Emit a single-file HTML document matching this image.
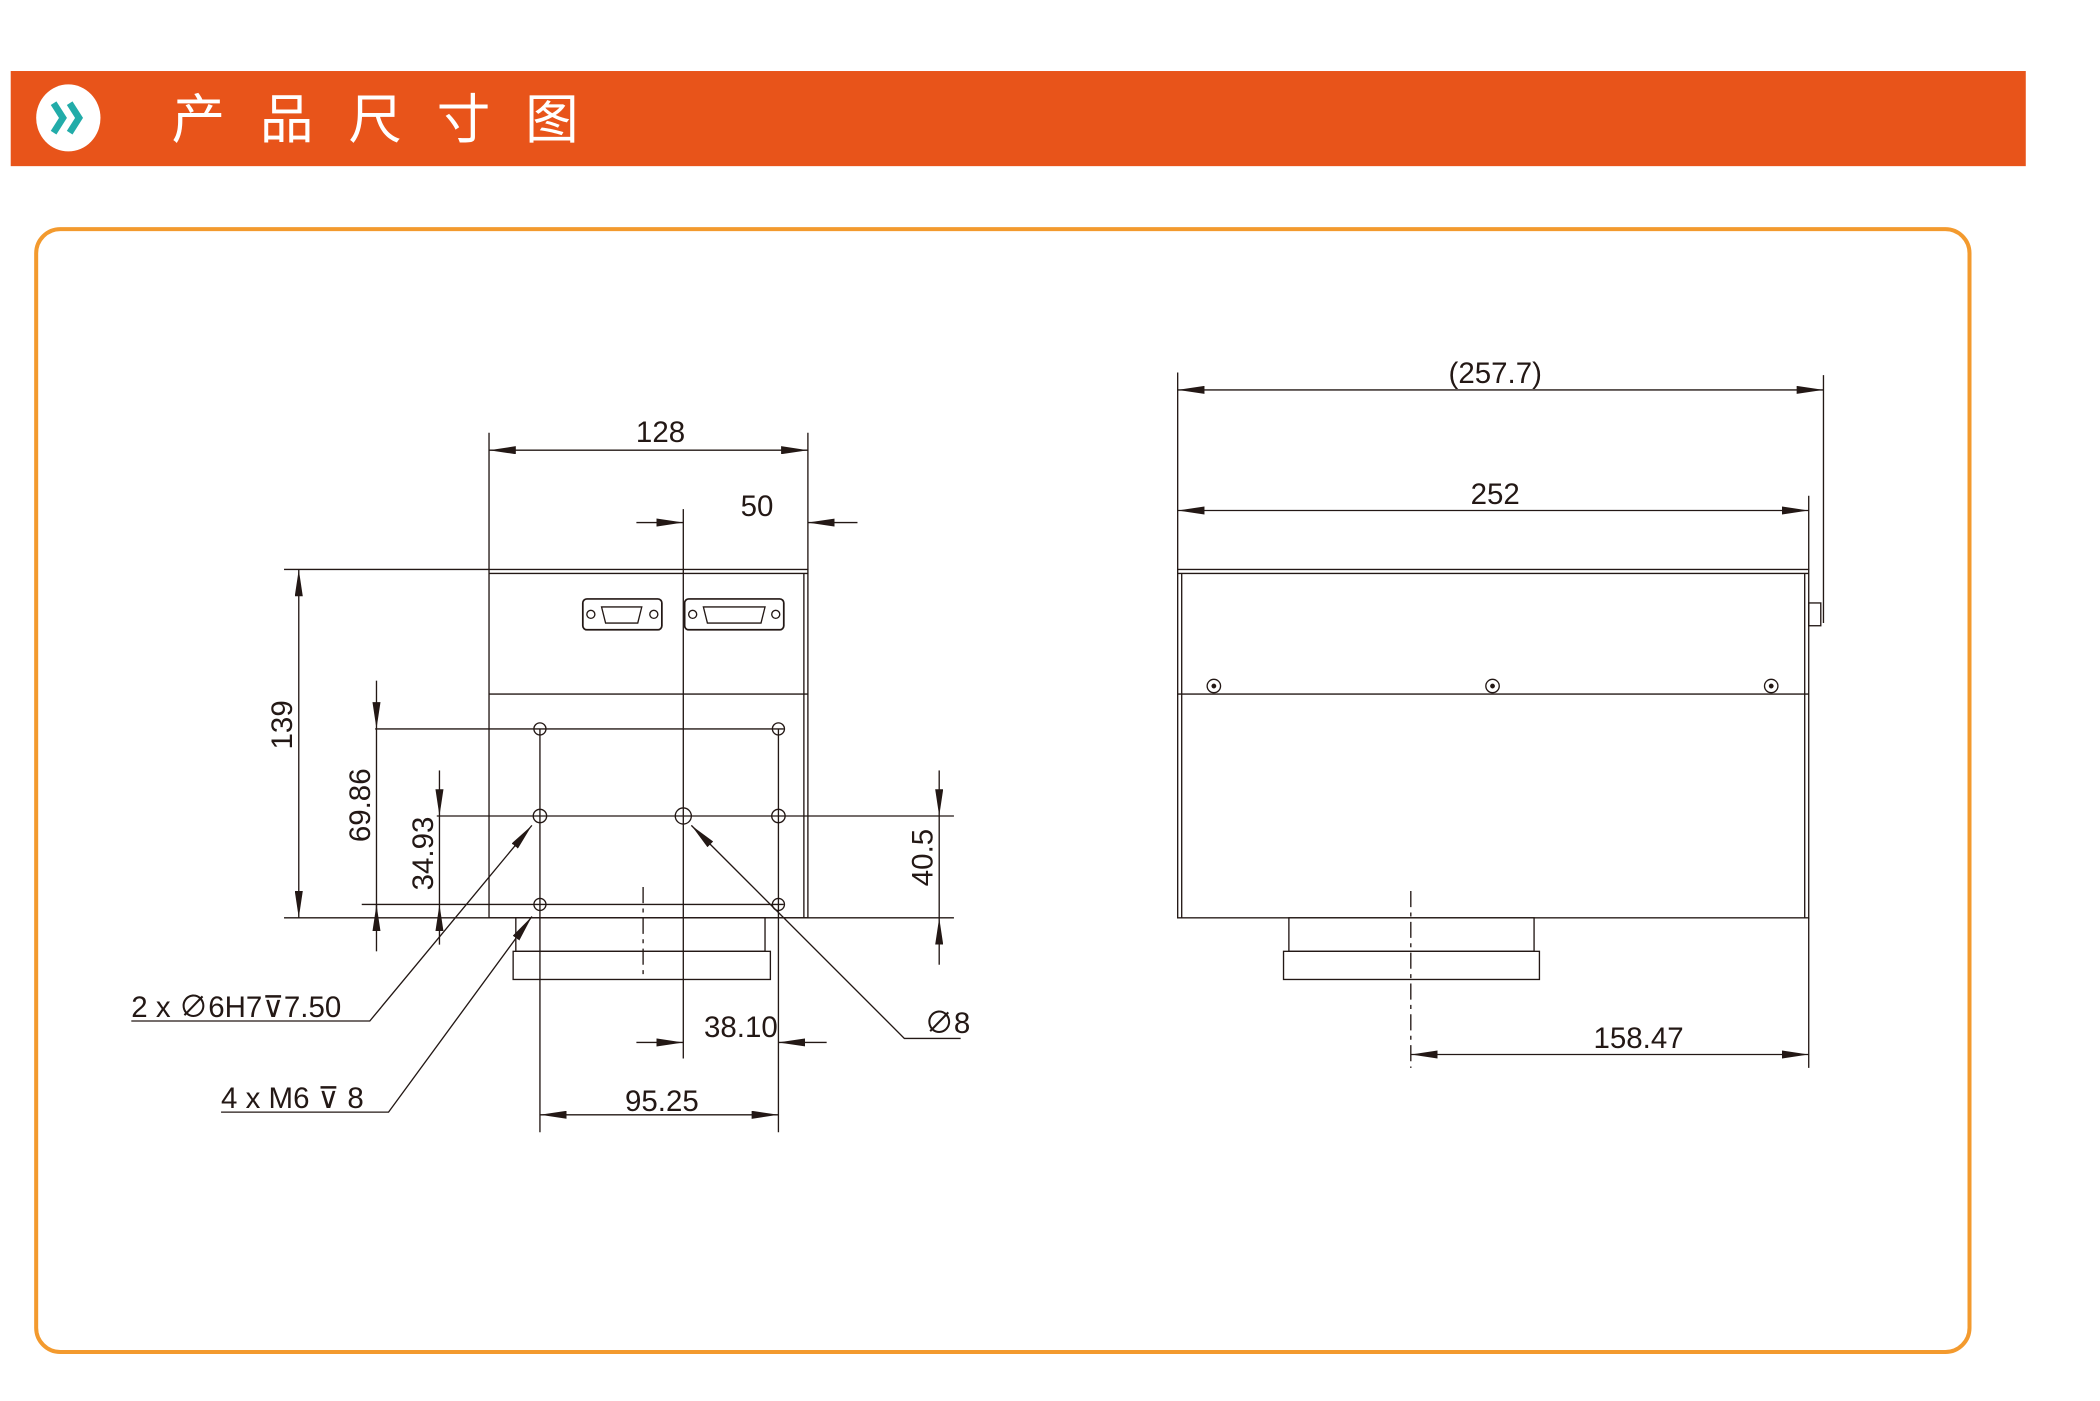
<!DOCTYPE html>
<html><head><meta charset="utf-8"><style>
html,body{margin:0;padding:0;background:#fff;}
svg{display:block}
text{font-family:"Liberation Sans","Noto Sans CJK SC",sans-serif;fill:#231815}
</style></head><body>
<svg width="2100" height="1401" viewBox="0 0 1567.4 1045.6" preserveAspectRatio="none" xmlns="http://www.w3.org/2000/svg">
<defs>
<marker id="a" viewBox="0 0 20 6" refX="20" refY="3" markerWidth="20" markerHeight="6" markerUnits="userSpaceOnUse" orient="auto-start-reverse"><path d="M0,0 L20,3 L0,6 z" fill="#231815"/></marker>
</defs>
<rect x="8" y="53" width="1504" height="71" fill="#E8541A"/>
<ellipse cx="51" cy="88" rx="24" ry="25" fill="#fff"/>
<path d="M40,77 L47,88 L40,99 M52,77 L59,88 L52,99" stroke="#22ACA9" stroke-width="5" fill="none"/>
<text x="128" y="103" font-size="40" style="fill:#fff;letter-spacing:26px" font-family="Noto Sans CJK SC,sans-serif">产品尺寸图</text>
<rect x="27" y="171" width="1443" height="838" rx="18" fill="none" stroke="#F39A2E" stroke-width="3"/>

<g stroke="#231815" stroke-width="1" fill="none">
<rect x="365" y="425" width="238" height="260"/>
<line x1="365" y1="428" x2="603" y2="428"/>
<line x1="600" y1="428" x2="600" y2="685"/>
<line x1="365" y1="518" x2="603" y2="518"/>
<rect x="435" y="447" width="59" height="23" rx="3" stroke-width="1.3"/>
<rect x="511" y="447" width="74" height="23" rx="3" stroke-width="1.3"/>
<path d="M449,453 h30 l-3,12 h-24 z"/><path d="M525,453 h46 l-3,12 h-40 z"/>
<circle cx="441" cy="458.5" r="3"/><circle cx="488" cy="458.5" r="3"/><circle cx="517" cy="458.5" r="3"/><circle cx="579" cy="458.5" r="3"/>
<rect x="385" y="685" width="186" height="25"/>
<rect x="383" y="710" width="192" height="21"/>
<line x1="480" y1="662" x2="480" y2="731" stroke-dasharray="12,4,3,4"/>
<circle cx="403" cy="544" r="4.5"/><circle cx="581" cy="544" r="4.5"/>
<circle cx="403" cy="609" r="5"/><circle cx="510" cy="609" r="6"/><circle cx="581" cy="609" r="5"/>
<circle cx="403" cy="675" r="4.5"/><circle cx="581" cy="675" r="4.5"/>
<line x1="280" y1="544" x2="585" y2="544"/>
<line x1="326" y1="609" x2="712" y2="609"/>
<line x1="270" y1="675" x2="585" y2="675"/>
<line x1="212" y1="685" x2="712" y2="685"/>
<line x1="212" y1="425" x2="365" y2="425"/>
<line x1="403" y1="544" x2="403" y2="845"/>
<line x1="581" y1="544" x2="581" y2="845"/>
<line x1="510" y1="380" x2="510" y2="790"/>
<line x1="365" y1="323" x2="365" y2="425"/>
<line x1="603" y1="323" x2="603" y2="425"/>
<line x1="365" y1="336" x2="603" y2="336" marker-start="url(#a)" marker-end="url(#a)"/>
<line x1="475" y1="390" x2="510" y2="390" marker-end="url(#a)"/>
<line x1="640" y1="390" x2="603" y2="390" marker-end="url(#a)"/>
<line x1="223" y1="425" x2="223" y2="685" marker-start="url(#a)" marker-end="url(#a)"/>
<line x1="281" y1="508" x2="281" y2="544" marker-end="url(#a)"/>
<line x1="281" y1="544" x2="281" y2="685"/>
<line x1="281" y1="710" x2="281" y2="675" marker-end="url(#a)"/>
<line x1="328" y1="575" x2="328" y2="609" marker-end="url(#a)"/>
<line x1="328" y1="609" x2="328" y2="675"/>
<line x1="328" y1="705" x2="328" y2="675" marker-end="url(#a)"/>
<line x1="701" y1="575" x2="701" y2="609" marker-end="url(#a)"/>
<line x1="701" y1="609" x2="701" y2="685"/>
<line x1="701" y1="720" x2="701" y2="685" marker-end="url(#a)"/>
<line x1="475" y1="778" x2="510" y2="778" marker-end="url(#a)"/>
<line x1="617" y1="778" x2="581" y2="778" marker-end="url(#a)"/>
<line x1="403" y1="832" x2="581" y2="832" marker-start="url(#a)" marker-end="url(#a)"/>
<polyline points="98,762 276,762 397,616" marker-end="url(#a)"/>
<polyline points="165,830 290,830 397,684" marker-end="url(#a)"/>
<polyline points="717,775 675,775 516,616" marker-end="url(#a)"/>

<rect x="879" y="425" width="471" height="260"/>
<line x1="879" y1="428" x2="1350" y2="428"/>
<line x1="882" y1="428" x2="882" y2="685"/>
<line x1="1347" y1="428" x2="1347" y2="685"/>
<line x1="879" y1="518" x2="1350" y2="518"/>
<rect x="1350" y="450" width="9" height="17"/>
<circle cx="906" cy="512" r="5"/><circle cx="1114" cy="512" r="5"/><circle cx="1322" cy="512" r="5"/>
<circle cx="906" cy="512" r="1.3" fill="#231815"/><circle cx="1114" cy="512" r="1.3" fill="#231815"/><circle cx="1322" cy="512" r="1.3" fill="#231815"/>
<rect x="962" y="685" width="183" height="25"/>
<rect x="958" y="710" width="191" height="21"/>
<line x1="1053" y1="665" x2="1053" y2="797" stroke-dasharray="12,4,3,4"/>
<line x1="879" y1="278" x2="879" y2="425"/>
<line x1="1361" y1="280" x2="1361" y2="465"/>
<line x1="1350" y1="370" x2="1350" y2="425"/>
<line x1="1350" y1="685" x2="1350" y2="797"/>
<line x1="879" y1="291" x2="1361" y2="291" marker-start="url(#a)" marker-end="url(#a)"/>
<line x1="879" y1="381" x2="1350" y2="381" marker-start="url(#a)" marker-end="url(#a)"/>
<line x1="1053" y1="787" x2="1350" y2="787" marker-start="url(#a)" marker-end="url(#a)"/>
</g>

<g font-size="22">
<text x="493" y="330" text-anchor="middle">128</text>
<text x="565" y="385" text-anchor="middle">50</text>
<text transform="translate(218,541) rotate(-90)" text-anchor="middle">139</text>
<text transform="translate(276,601) rotate(-90)" text-anchor="middle">69.86</text>
<text transform="translate(323,637) rotate(-90)" text-anchor="middle">34.93</text>
<text transform="translate(696,640) rotate(-90)" text-anchor="middle">40.5</text>
<text x="553" y="774" text-anchor="middle">38.10</text>
<text x="494" y="829" text-anchor="middle">95.25</text>
<text x="98" y="759">2 x ∅6H7⊽7.50</text>
<text x="165" y="827">4 x M6 ⊽ 8</text>
<text x="690" y="771">∅8</text>
<text x="1116" y="286" text-anchor="middle">(257.7)</text>
<text x="1116" y="376" text-anchor="middle">252</text>
<text x="1223" y="782" text-anchor="middle">158.47</text>
</g>
</svg>
</body></html>
